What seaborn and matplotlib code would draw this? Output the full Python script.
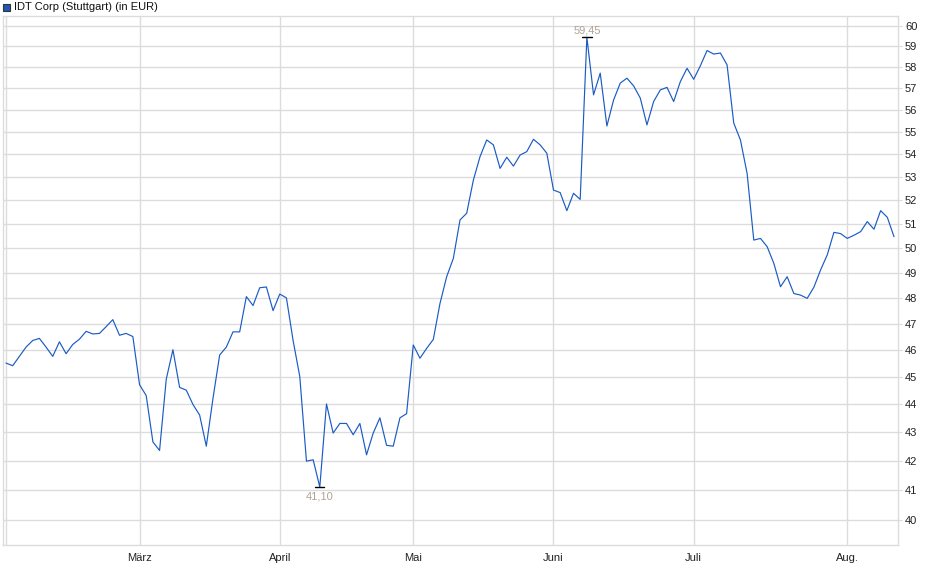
import numpy as np
import pandas as pd
import matplotlib
matplotlib.use('Agg')
import matplotlib.pyplot as plt
from matplotlib.patches import Rectangle
from matplotlib.ticker import FixedLocator, FixedFormatter, NullLocator
import seaborn as sns

# ============================================================
# DATA
# ============================================================
TITLE = 'IDT Corp (Stuttgart) (in EUR)'
START_DATE = '2025-02-03'
END_DATE = '2025-08-12'
HOLIDAYS = ['2025-04-18', '2025-04-21', '2025-05-01']

prices = [
    45.50, 45.40, 45.75, 46.10, 46.35, 46.43, 46.10, 45.75, 46.30, 45.85,
    46.20, 46.40, 46.70, 46.60, 46.62, 46.88, 47.15, 46.55, 46.62, 46.50,
    44.70, 44.30, 42.65, 42.35, 44.90, 46.00, 44.60, 44.50, 43.98, 43.60,
    42.50, 44.20, 45.80, 46.10, 46.68, 46.68, 48.05, 47.70, 48.40, 48.43,
    47.50, 48.15, 48.00, 46.35, 45.00, 41.98, 42.03, 41.10, 44.00, 42.96,
    43.30, 43.30, 42.90, 43.30, 42.20, 42.96, 43.50, 42.53, 42.50, 43.50,
    43.65, 46.18, 45.68, 46.05, 46.39, 47.78, 48.84, 49.58, 51.17, 51.45,
    52.87, 53.90, 54.64, 54.42, 53.38, 53.87, 53.48, 53.97, 54.12, 54.67,
    54.42, 54.05, 52.44, 52.33, 51.56, 52.30, 52.04, 59.45, 56.70, 57.72,
    55.27, 56.46, 57.25, 57.48, 57.12, 56.55, 55.32, 56.39, 56.93, 57.05,
    56.39, 57.32, 57.95, 57.43, 58.07, 58.80, 58.63, 58.68, 58.11, 55.40,
    54.64, 53.16, 50.33, 50.40, 50.06, 49.38, 48.44, 48.84, 48.17, 48.11,
    47.98, 48.42, 49.11, 49.72, 50.65, 50.60, 50.40, 50.53, 50.68, 51.10,
    50.78, 51.56, 51.28, 50.47,
]

month_names = ['', 'März', 'April', 'Mai', 'Juni', 'Juli', 'Aug.']
y_ticks = list(range(40, 61))

# trading days of the Stuttgart exchange
dates = pd.bdate_range(START_DATE, END_DATE)
dates = dates[~dates.isin(pd.to_datetime(HOLIDAYS))]
df = pd.DataFrame({'date': dates, 'price': prices})
df['idx'] = np.arange(len(df))

# first trading day of each month -> tick position
month_starts = df.groupby(df['date'].dt.to_period('M'))['idx'].min().tolist()

# ============================================================
# STYLE
# ============================================================
sns.set_style('white')
plt.rcParams['font.family'] = ['Liberation Sans', 'DejaVu Sans']
plt.rcParams['font.size'] = 8

GRID = '#dcdcdc'
LINE = '#1a5bc4'
LABEL = '#ada496'

fig = plt.figure(figsize=(9.4, 5.79), dpi=100)
ax = fig.add_axes([3 / 940, 1 - 545 / 579, 895 / 940, 529 / 579])

# ============================================================
# PLOT
# ============================================================
sns.lineplot(data=df, x='idx', y='price', ax=ax, color=LINE, linewidth=0.85)

ax.set_yscale('log')
ax.set_ylim(39.19, 60.49)
ax.set_xlim(-0.45, 133.6)

ax.yaxis.set_major_locator(FixedLocator(y_ticks))
ax.yaxis.set_major_formatter(FixedFormatter([str(v) for v in y_ticks]))
ax.yaxis.set_minor_locator(NullLocator())
ax.yaxis.tick_right()
ax.set_xticks(month_starts)
ax.set_xticklabels(month_names)

ax.grid(True, color=GRID, linewidth=1.0)
ax.set_axisbelow(True)
for side in ['left', 'right', 'top', 'bottom']:
    ax.spines[side].set_color(GRID)
    ax.spines[side].set_linewidth(1.0)

ax.tick_params(axis='y', which='major', length=3, color=GRID, pad=2,
               labelsize=8, labelcolor='#222222')
ax.tick_params(axis='x', which='major', length=3, color=GRID, pad=3,
               labelsize=8, labelcolor='#222222')
ax.set_xlabel('')
ax.set_ylabel('')

# --- high / low markers ---
hi = int(np.argmax(prices))
lo = int(np.argmin(prices))
for i, va, dy in [(hi, 'bottom', 1.5), (lo, 'top', -3)]:
    v = prices[i]
    ax.plot([i - 0.7, i + 0.7], [v, v], color='black', linewidth=1.0)
    ax.annotate(f'{v:.2f}'.replace('.', ','), (i, v), xytext=(0, dy),
                textcoords='offset points', ha='center', va=va,
                color=LABEL, fontsize=8)

# --- title with colour box ---
fig.patches.append(Rectangle((3 / 940, 1 - 11 / 579), 7 / 940, 7 / 579,
                             transform=fig.transFigure, facecolor='#1f56b8',
                             edgecolor='#333333', linewidth=0.8))
fig.text(14 / 940, 1 - 7 / 579, TITLE, ha='left', va='center',
         fontsize=8, color='#111111')

plt.savefig('out.png', dpi=100)
plt.close()
